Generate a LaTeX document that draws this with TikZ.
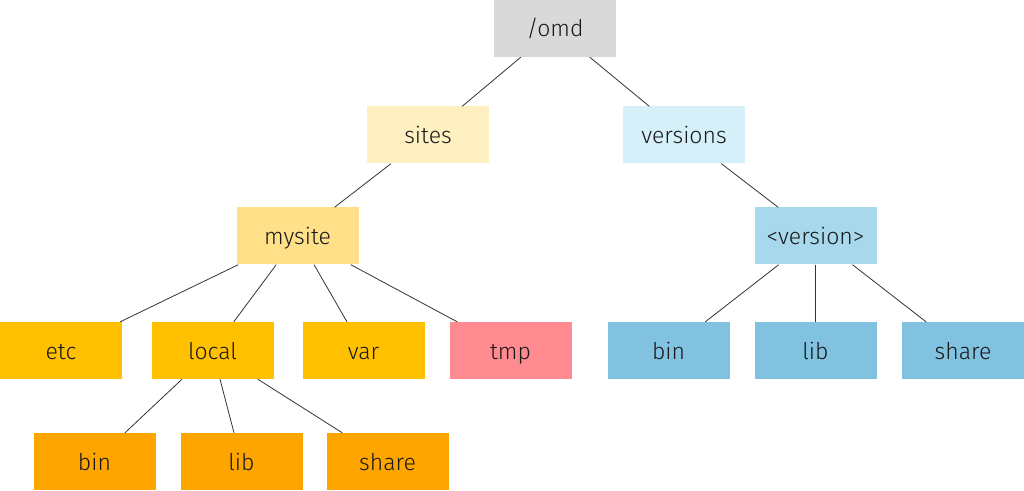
\documentclass[tikz,border=0pt]{standalone}
\usepackage{fontspec}
\setmainfont{Fira Sans Light}
\usepackage{tikz}

\definecolor{omdgray}{HTML}{D9D9D9}
\definecolor{sitesyel}{HTML}{FFF0C2}
\definecolor{mysiteyel}{HTML}{FFDF88}
\definecolor{siteorange}{HTML}{FFC000}
\definecolor{localorange}{HTML}{FFA500}
\definecolor{tmpred}{HTML}{FF8A8F}
\definecolor{versionslight}{HTML}{D6F0FA}
\definecolor{versionmid}{HTML}{A8D8EC}
\definecolor{versionblue}{HTML}{80C2E0}

\tikzset{
  dirbox/.style={rectangle, minimum width=122pt, minimum height=57pt, inner sep=0pt,
    font=\fontsize{23}{26}\selectfont, text=black!90,
    text height=17pt, text depth=0pt},
  link/.style={black!80, line width=0.8pt}
}

\begin{document}
\begin{tikzpicture}[x=1pt,y=1pt]
\useasboundingbox (0,0) rectangle (1024,490);
% top levels
\node[dirbox, fill=omdgray] (omd) at (555,461.5) {/omd};
\node[dirbox, fill=sitesyel] (sites) at (428,355) {sites};
\node[dirbox, fill=versionslight] (versions) at (684,355) {versions};
\node[dirbox, fill=mysiteyel] (mysite) at (297.5,254) {mysite};
\node[dirbox, fill=versionmid] (version) at (815.5,254) {<version>};
% site directories
\node[dirbox, fill=siteorange] (etc) at (61,139.5) {etc};
\node[dirbox, fill=siteorange] (local) at (212.5,139.5) {local};
\node[dirbox, fill=siteorange] (var) at (363.5,139.5) {var};
\node[dirbox, fill=tmpred] (tmp) at (510.5,139.5) {tmp};
% version directories
\node[dirbox, fill=versionblue] (vbin) at (668.5,139.5) {bin};
\node[dirbox, fill=versionblue] (vlib) at (815.5,139.5) {lib};
\node[dirbox, fill=versionblue] (vshare) at (963,139.5) {share};
% local directories
\node[dirbox, fill=localorange] (lbin) at (94.5,28.5) {bin};
\node[dirbox, fill=localorange] (llib) at (241.5,28.5) {lib};
\node[dirbox, fill=localorange] (lshare) at (387.5,28.5) {share};

\foreach \a/\b in {omd/sites, omd/versions, sites/mysite, versions/version,
    mysite/etc, mysite/local, mysite/var, mysite/tmp,
    version/vbin, version/vlib, version/vshare,
    local/lbin, local/llib, local/lshare}
  \draw[link] (\a) -- (\b);
\end{tikzpicture}
\end{document}
